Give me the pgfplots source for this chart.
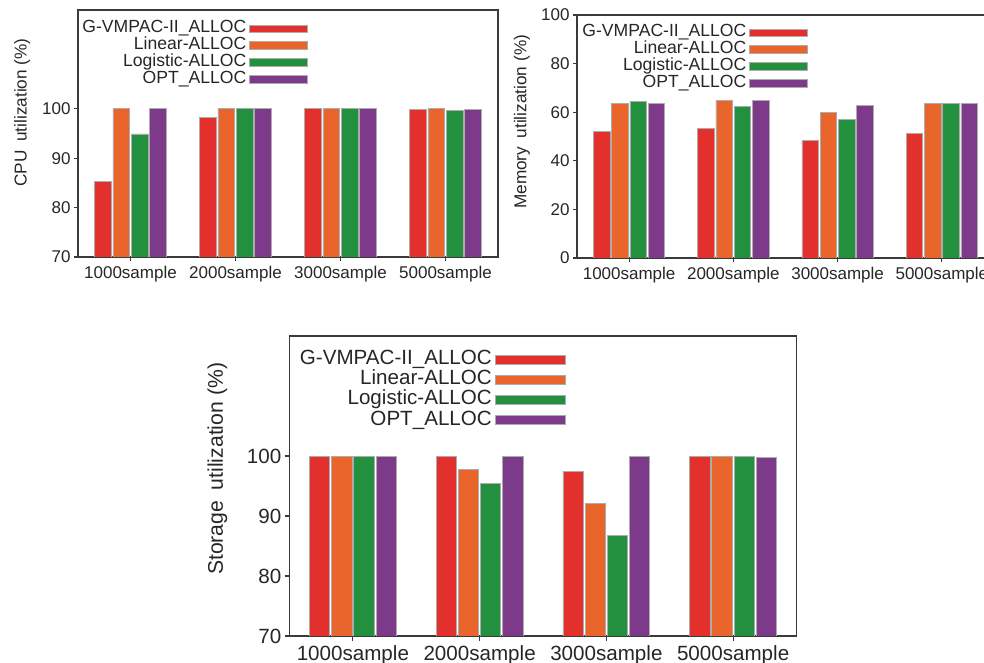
\documentclass[border=0pt]{standalone}
\usepackage{fontspec}
\setmainfont{Liberation Sans}
\usepackage{pgfplots}
\pgfplotsset{compat=1.18}
\definecolor{cred}{HTML}{E3302C}
\definecolor{corange}{HTML}{E9652C}
\definecolor{cgreen}{HTML}{22903E}
\definecolor{cpurple}{HTML}{7D3A8A}
\definecolor{axcol}{HTML}{3A3A3A}
\def\sww{29pt}\def\swh{1.9pt}
\pgfplotsset{
  mybar/.style n args={2}{ybar, bar width=0.16, bar shift=#1, fill=#2, draw=gray!65, line width=0.4pt,
    legend image code/.code={\draw[fill=#2, draw=gray!65, line width=0.4pt] (0pt,-\swh) rectangle (\sww,\swh);}},
  base/.style={scale only axis, xmin=-0.5, xmax=3.5, xtick={0,1,2,3},
    xticklabels={1000sample,2000sample,3000sample,5000sample},
    tick align=outside, tick pos=left, major tick length=2pt,
    axis line style={axcol, line width=0.6pt}, every tick/.style={axcol, line width=0.6pt},
    /pgf/number format/assume math mode=true,
    legend plot pos=right, legend cell align=right,
    legend style={draw=none, fill=none, at={(axis description cs:0,1)}, anchor=north west, row sep=0pt, column sep=1.5pt},
  },
  smallfont/.style={
    yticklabel style={font=\fontsize{8.5}{10}\selectfont, text=black!85, xshift=1.8pt},
    xticklabel style={font=\fontsize{8.5}{10}\selectfont, text=black!85, yshift=0.8pt},
    legend style={font=\fontsize{8.8}{10}\selectfont, text=black!85, nodes={inner sep=0pt, text height=6.3pt, text depth=2.1pt}},
  },
  bigfont/.style={
    yticklabel style={font=\fontsize{10.3}{12}\selectfont, text=black!85, xshift=1.8pt},
    xticklabel style={font=\fontsize{10.3}{12}\selectfont, text=black!85, yshift=1.2pt},
    legend style={font=\fontsize{10.3}{12}\selectfont, text=black!85, nodes={inner sep=0pt, text height=7.5pt, text depth=2.6pt}},
  },
}
\begin{document}
\begin{tikzpicture}
\path[use as bounding box] (0pt,0pt) rectangle (492pt,331.5pt);
\clip (0pt,0pt) rectangle (492pt,331.5pt);
% CPU
\begin{axis}[base, smallfont, at={(39pt,203pt)}, anchor=south west, width=210pt, height=123.5pt,
  ymin=70, ymax=120, ytick={70,80,90,100},
  ylabel={CPU\hspace{0.5em}utilization (\%)},
  every axis y label/.style={at={(axis description cs:-0.133,0.585)}, rotate=90, anchor=center, font=\fontsize{8.6}{10}\selectfont, text=black!85},
  legend style={xshift=-1pt, yshift=-3pt}]
\addplot[mybar={-0.2625}{cred}] coordinates {(0,85.3) (1,98.2) (2,100) (3,99.8)};
\addplot[mybar={-0.0875}{corange}] coordinates {(0,100) (1,100) (2,100) (3,100)};
\addplot[mybar={0.0875}{cgreen}] coordinates {(0,94.9) (1,100) (2,100) (3,99.6)};
\addplot[mybar={0.2625}{cpurple}] coordinates {(0,100) (1,100) (2,100) (3,99.8)};
\legend{G-VMPAC-II\_ALLOC, Linear-ALLOC, Logistic-ALLOC, OPT\_ALLOC}
\end{axis}
% Memory
\begin{axis}[base, smallfont, at={(288.5pt,202.5pt)}, anchor=south west, width=208.5pt, height=121.5pt,
  ymin=0, ymax=100, ytick={0,20,40,60,80,100},
  ylabel={Memory\hspace{0.5em}utilization (\%)},
  every axis y label/.style={at={(axis description cs:-0.132,0.56)}, rotate=90, anchor=center, font=\fontsize{8.6}{10}\selectfont, text=black!85},
  legend style={xshift=-0.5pt, yshift=-2.5pt}]
\addplot[mybar={-0.2625}{cred}] coordinates {(0,51.9) (1,53.3) (2,48.4) (3,51.4)};
\addplot[mybar={-0.0875}{corange}] coordinates {(0,63.6) (1,65.0) (2,59.8) (3,63.7)};
\addplot[mybar={0.0875}{cgreen}] coordinates {(0,64.6) (1,62.5) (2,57.0) (3,63.7)};
\addplot[mybar={0.2625}{cpurple}] coordinates {(0,63.6) (1,65.0) (2,62.8) (3,63.6)};
\legend{G-VMPAC-II\_ALLOC, Linear-ALLOC, Logistic-ALLOC, OPT\_ALLOC}
\end{axis}
% Storage
\def\sww{35pt}\def\swh{2.3pt}
\begin{axis}[base, bigfont, at={(144.75pt,13.5pt)}, anchor=south west, width=253.5pt, height=150pt,
  ymin=70, ymax=120, ytick={70,80,90,100},
  major tick length=2.4pt,
  ylabel={Storage\hspace{0.5em}utilization (\%)},
  every axis y label/.style={at={(axis description cs:-0.142,0.557)}, rotate=90, anchor=center, font=\fontsize{10.6}{12}\selectfont, text=black!85},
  legend style={xshift=2pt, yshift=-4.5pt, column sep=1.8pt}]
\addplot[mybar={-0.2625}{cred}] coordinates {(0,100) (1,100) (2,97.5) (3,100)};
\addplot[mybar={-0.0875}{corange}] coordinates {(0,100) (1,97.8) (2,92.1) (3,100)};
\addplot[mybar={0.0875}{cgreen}] coordinates {(0,100) (1,95.4) (2,86.7) (3,100)};
\addplot[mybar={0.2625}{cpurple}] coordinates {(0,100) (1,100) (2,100) (3,99.8)};
\legend{G-VMPAC-II\_ALLOC, Linear-ALLOC, Logistic-ALLOC, OPT\_ALLOC}
\end{axis}
\end{tikzpicture}
\end{document}
